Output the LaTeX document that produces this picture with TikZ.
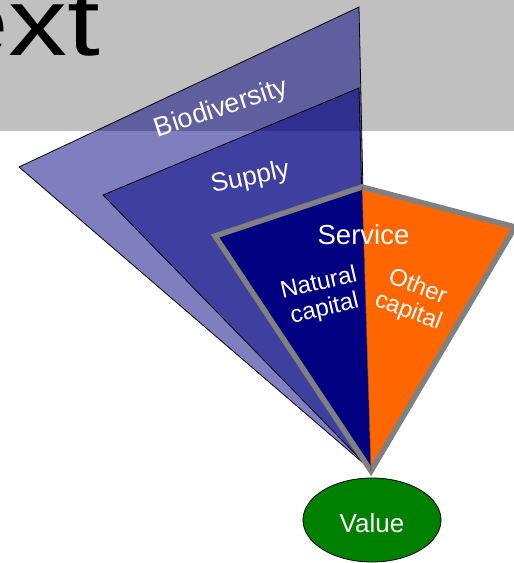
\documentclass[tikz,border=0pt]{standalone}
\usepackage{fontspec}
\setmainfont{Liberation Sans}
\usetikzlibrary{shapes.geometric}
\definecolor{bannergray}{HTML}{C0C0C0}
\definecolor{navyb}{HTML}{000080}
\definecolor{orng}{HTML}{FF6600}
\definecolor{grayb}{HTML}{808080}
\definecolor{greenv}{HTML}{008000}
\begin{document}
\begin{tikzpicture}[x=1pt,y=-1pt,
  wedge/.style={fill=navyb, fill opacity=0.5, draw=black, line width=0.8pt, line join=miter},
  lbl/.style={text=white, inner sep=0pt},
]
\useasboundingbox (0,0) rectangle (514,563);
\fill[bannergray] (0,0) rectangle (514,131);
\node[anchor=base west, inner sep=0pt, xscale=1.23, font=\fontsize{96}{96}\selectfont] (title) at (-57,55) {ext};

\coordinate (apex) at (369,468);
\coordinate (bioT) at (359,7);
\coordinate (bioL) at (19,167);
\coordinate (supT) at (359,88);
\coordinate (supL) at (103,195);
\coordinate (serT) at (362,187);
\coordinate (serL) at (215,236);
\coordinate (serR) at (515,227);
\coordinate (serB) at (371,471);

\draw[wedge] (bioT) -- (bioL) -- (apex) -- cycle;
\draw[wedge] (supT) -- (supL) -- (apex) -- cycle;
\fill[navyb] (serT) -- (serL) -- (serB) -- cycle;
\fill[orng] (serT) -- (serR) -- (serB) -- cycle;
\draw[grayb, line width=5.5pt, line join=miter] (serT) -- (serL) -- (serB) -- (serR) -- cycle;
\draw[black!75, line width=0.5pt] (serT) -- (serB);

\node[ellipse, draw=black, line width=0.8pt, fill=greenv, minimum width=138pt, minimum height=84pt, inner sep=0pt, text=white, font=\fontsize{26}{26}\selectfont, text height=24pt, text depth=0pt] (value) at (372,520) {Value};

\node[lbl, rotate=18, anchor=base, font=\fontsize{27}{27}\selectfont] (bio) at (223.6,115.7) {Biodiversity};
\node[lbl, rotate=12, anchor=base, font=\fontsize{26}{26}\selectfont] (sup) at (251.8,184.7) {Supply};
\node[lbl, anchor=base, font=\fontsize{27.5}{27.5}\selectfont] (ser) at (363.5,244) {Service};
\node[lbl, rotate=13, align=center, font=\fontsize{24}{26}\selectfont] (nat) at (321.8,296.6) {Natural\\capital};
\node[lbl, rotate=-21, align=center, font=\fontsize{24}{26}\selectfont] (oth) at (412.8,299.5) {Other\\capital};
\end{tikzpicture}
\end{document}
